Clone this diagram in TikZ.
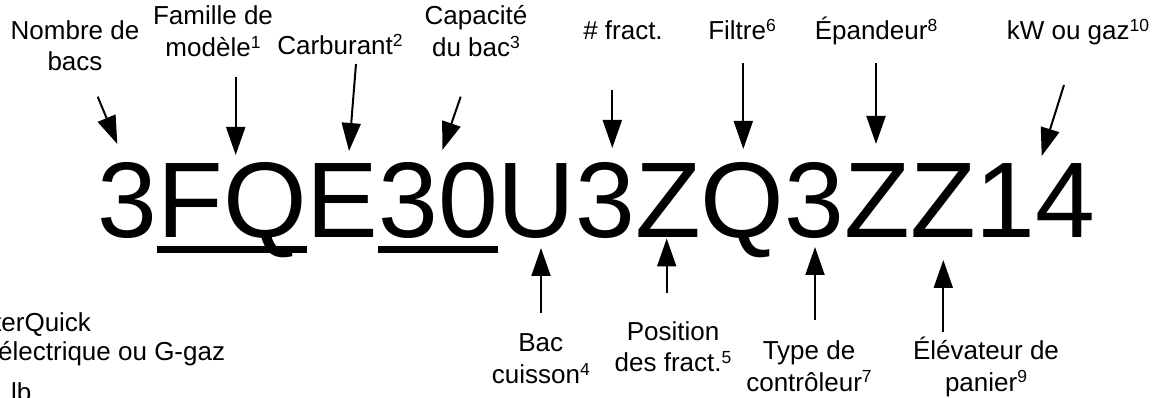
\documentclass[tikz,border=0pt]{standalone}
\usepackage{fontspec}
\setmainfont{Liberation Sans}
\usetikzlibrary{arrows.meta}
\newcommand\supnum[1]{\raisebox{0.31em}{\fontsize{17.5}{17.5}\selectfont #1}}
\begin{document}
\begin{tikzpicture}[x=1pt,y=-1pt,
  lab/.style={font=\fontsize{26}{31.7}\selectfont, align=center, anchor=base, inner sep=0pt},
  side/.style={font=\fontsize{26}{31.7}\selectfont, anchor=base west, inner sep=0pt},
  arr/.style={line width=2pt, -{Triangle[length=28pt,width=19pt]}},
  ul/.style={fill=black}]
\fill[white] (0,0) rectangle (1160,398);
\useasboundingbox (0,0) rectangle (1160,398);

% model code
\node[anchor=base west, inner sep=0pt, font=\fontsize{107.5}{120}\selectfont] (code) at (97.4,238) {3FQE30U3ZQ3ZZ14};
\fill[ul] (157.2,246) rectangle (306.5,253);
\fill[ul] (378.2,246) rectangle (497.8,253);

% top labels (base anchor = baseline of last line)
\node[lab] (nb)   at (75,71)      {Nombre de\\bacs};
\node[lab] (fam)  at (213,56.7)   {Famille de\\modèle\supnum{1}};
\node[lab] (carb) at (340,55)     {Carburant\supnum{2}};
\node[lab] (cap)  at (476,56.7)   {Capacité\\du bac\supnum{3}};
\node[lab] (nf)   at (623,40)     {\# fract.};
\node[lab] (fil)  at (742,39.3)   {Filtre\supnum{6}};
\node[lab] (epa)  at (876,39.3)   {Épandeur\supnum{8}};
\node[lab] (kw)   at (1078,39.3)  {kW ou gaz\supnum{10}};

% bottom labels
\node[lab] (bac) at (540.8,383.4) {Bac\\cuisson\supnum{4}};
\node[lab] (pos) at (673,371.7)   {Position\\des fract.\supnum{5}};
\node[lab] (typ) at (809,391)     {Type de\\contrôleur\supnum{7}};
\node[lab] (ele) at (986,391)     {Élévateur de\\panier\supnum{9}};

% cut-off legend at left
\node[side] (l1) at (-6,331.7) {terQuick};
\node[side] (l2) at (-2,360)   {électrique ou G-gaz};
\node[side] (l3) at (11,401)   {lb};

% arrow ends
\coordinate (s1) at (97.7,96.7);   \coordinate (e1) at (117.3,144);
\coordinate (s2) at (235.7,76.7);  \coordinate (e2) at (235.7,155);
\coordinate (s3) at (356,64);      \coordinate (e3) at (349,151);
\coordinate (s4) at (460.7,96.7);  \coordinate (e4) at (442.3,150);
\coordinate (s5) at (612.3,90);    \coordinate (e5) at (612.3,148);
\coordinate (s6) at (743.3,63);    \coordinate (e6) at (743.3,149);
\coordinate (s7) at (876,63.3);    \coordinate (e7) at (876,144);
\coordinate (s8) at (1064,85);     \coordinate (e8) at (1041.7,156);
\coordinate (s9) at (541,313);     \coordinate (e9) at (541,248);
\coordinate (s10) at (666.7,293.5);\coordinate (e10) at (666.7,238.5);
\coordinate (s11) at (815,320);    \coordinate (e11) at (815,247);
\coordinate (s12) at (943.3,331.7);\coordinate (e12) at (943.3,260);

\foreach \i in {1,...,12} {\draw[arr] (s\i) -- (e\i);}
\end{tikzpicture}
\end{document}
